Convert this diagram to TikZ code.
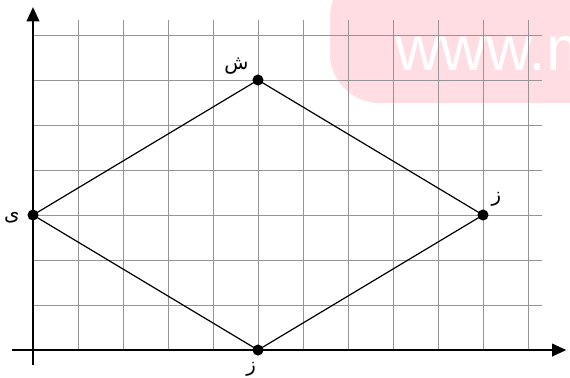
\documentclass[tikz,border=0pt]{standalone}
\usepackage{fontspec}
\setmainfont{Liberation Sans}
\newfontfamily\arabicfont[Script=Arabic]{DejaVu Sans}
\TeXXeTstate=1
\usetikzlibrary{arrows.meta}
\definecolor{gridgray}{RGB}{150,148,149}
\definecolor{wmpink}{RGB}{255,221,227}
\begin{document}
\begin{tikzpicture}[x=1cm,y=1cm,
  gridline/.style={draw=gridgray,line width=0.6pt},
  axisline/.style={draw=black,line width=1.2pt,-{Triangle[length=9pt,width=8pt]}},
  edge/.style={draw=black,line width=0.75pt},
  pt/.style={circle,fill=black,inner sep=0pt,minimum size=7pt},
  lbl/.style={font=\arabicfont\fontsize{12.5}{14}\selectfont,inner sep=1pt}]
\useasboundingbox (-0.733,-0.6) rectangle (11.933,7.778);
% watermark
\fill[wmpink,rounded corners=1.1cm] (6.6,5.49) rectangle (13.5,8.5);
\node[anchor=base west,inner sep=0pt,text=white,font=\fontsize{40}{44}\selectfont] (wm) at (8.04,6.22) {www.m};
% grid
\foreach \i in {1,...,11} \draw[gridline] (\i,0) -- (\i,7.33);
\foreach \j in {1,...,7} \draw[gridline] (0,\j) -- (11.31,\j);
% axes
\coordinate (xs) at (-0.467,0);
\coordinate (xe) at (11.85,0);
\coordinate (ys) at (0,-0.33);
\coordinate (ye) at (0,7.62);
\draw[axisline] (xs) -- (xe);
\draw[axisline] (ys) -- (ye);
% points
\node[pt] (sh) at (5,6) {};
\node[pt] (ye1) at (0,3) {};
\node[pt] (ze1) at (10,3) {};
\node[pt] (ze2) at (5,0) {};
\draw[edge] (ye1.center) -- (sh.center) -- (ze1.center) -- (ze2.center) -- cycle;
% labels
\node[lbl] (lsh) at (4.52,6.3) {\beginR ش\endR};
\node[lbl] (lye) at (-0.47,2.95) {\beginR ی\endR};
\node[lbl] (lze1) at (10.3,3.35) {\beginR ز\endR};
\node[lbl] (lze2) at (4.85,-0.42) {\beginR ز\endR};
\end{tikzpicture}
\end{document}
